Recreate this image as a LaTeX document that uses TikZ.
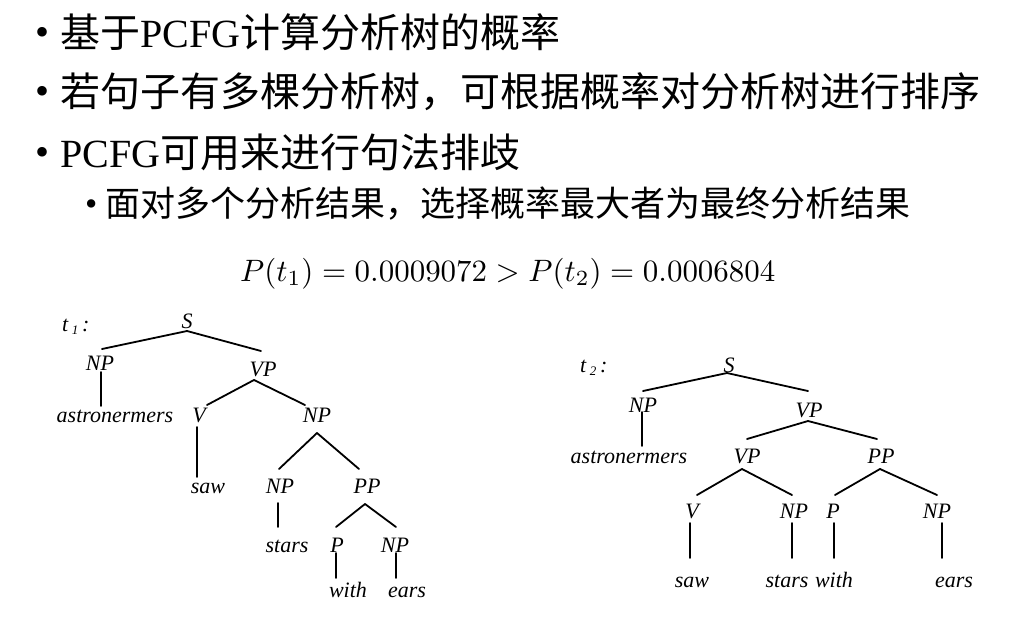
\documentclass[tikz,border=0pt]{standalone}
\usepackage{fontspec}
\usepackage{graphicx}
\setmainfont{Liberation Serif}
\newfontfamily\cjk{Noto Sans CJK SC}
\begin{document}
\begin{tikzpicture}[x=1pt,y=-1pt,
  tl/.style={font=\fontsize{22}{22}\selectfont\itshape, inner sep=0pt, anchor=base},
  br/.style={line width=1.8pt, line cap=round},
  big/.style={font=\fontsize{40}{40}\selectfont, inner sep=0pt, anchor=base west},
  mid/.style={font=\fontsize{35}{35}\selectfont, inner sep=0pt, anchor=base west}]
\useasboundingbox (0,0) rectangle (1036,619);
\fill[white] (0,0) rectangle (1036,619);
% bullet text
\node[big] (b1) at (35,45) {•};
\node[big] (l1) at (60,47) {{\cjk 基于}PCFG{\cjk 计算分析树的概率}};
\node[big] (b2) at (35,104) {•};
\node[big] (l2) at (60,106) {\cjk 若句子有多棵分析树，可根据概率对分析树进行排序};
\node[big] (b3) at (35,165) {•};
\node[big] (l3) at (60,167) {PCFG{\cjk 可用来进行句法排歧}};
\node[mid] (b4) at (85,215) {•};
\node[mid] (l4) at (105,216) {\cjk 面对多个分析结果，选择概率最大者为最终分析结果};
% formula
\node[inner sep=0pt, anchor=base west] (f) at (240,281) {\resizebox{535pt}{!}{$P(t_1)=0.0009072>P(t_2)=0.0006804$}};
% tree t1
\node[tl, anchor=base west] (t1) at (62,331) {t\,\raisebox{-3pt}{\fontsize{13}{13}\selectfont 1}\,:};
\node[tl] (S1) at (187,328) {S};
\node[tl] (NPa) at (100,370) {NP};
\node[tl] (VPa) at (263,376) {VP};
\node[tl] (astr1) at (115,422) {astronermers};
\node[tl] (V1) at (199,422) {V};
\node[tl] (NPb) at (317,422) {NP};
\node[tl] (saw1) at (208,493) {saw};
\node[tl] (NPc) at (280,493) {NP};
\node[tl] (PP1) at (367,493) {PP};
\node[tl] (stars1) at (287,552) {stars};
\node[tl] (P1) at (337,552) {P};
\node[tl] (NPd) at (395,552) {NP};
\node[tl] (with1) at (348,597) {with};
\node[tl] (ears1) at (407,597) {ears};
\draw[br] ([shift={(0,3)}]S1.base) -- ([shift={(2,-21)}]NPa.base);
\draw[br] ([shift={(0,3)}]S1.base) -- ([shift={(-2,-25)}]VPa.base);
\draw[br] ([shift={(1,2)}]NPa.base) -- ([shift={(-14,-16)}]astr1.base);
\draw[br] ([shift={(-9,4)}]VPa.base) -- ([shift={(8,-17)}]V1.base);
\draw[br] ([shift={(-9,4)}]VPa.base) -- ([shift={(-12,-17)}]NPb.base);
\draw[br] ([shift={(-2,5)}]V1.base) -- ([shift={(-11,-16)}]saw1.base);
\draw[br] ([shift={(0,11)}]NPb.base) -- ([shift={(-1,-24)}]NPc.base);
\draw[br] ([shift={(0,11)}]NPb.base) -- ([shift={(-8,-24)}]PP1.base);
\draw[br] ([shift={(-2,10)}]NPc.base) -- ([shift={(-9,-25)}]stars1.base);
\draw[br] ([shift={(-2,11)}]PP1.base) -- ([shift={(-1,-25)}]P1.base);
\draw[br] ([shift={(-2,11)}]PP1.base) -- ([shift={(1,-25)}]NPd.base);
\draw[br] ([shift={(-1,1)}]P1.base) -- ([shift={(-12,-19)}]with1.base);
\draw[br] ([shift={(1,1)}]NPd.base) -- ([shift={(-11,-19)}]ears1.base);
% tree t2
\node[tl, anchor=base west] (t2) at (580,372) {t\,\raisebox{-3pt}{\fontsize{13}{13}\selectfont 2}\,:};
\node[tl] (S2) at (729,372) {S};
\node[tl] (NPe) at (643,412) {NP};
\node[tl] (VPb) at (809,417) {VP};
\node[tl] (astr2) at (629,463) {astronermers};
\node[tl] (VPc) at (747,463) {VP};
\node[tl] (PP2) at (881,463) {PP};
\node[tl] (V2) at (692,518) {V};
\node[tl] (NPf) at (794,518) {NP};
\node[tl] (P2) at (833,518) {P};
\node[tl] (NPg) at (937,518) {NP};
\node[tl] (saw2) at (692,587) {saw};
\node[tl] (stars2) at (787,587) {stars};
\node[tl] (with2) at (834,587) {with};
\node[tl] (ears2) at (954,587) {ears};
\draw[br] ([shift={(-2,1)}]S2.base) -- ([shift={(0,-21)}]NPe.base);
\draw[br] ([shift={(-2,1)}]S2.base) -- ([shift={(-1,-26)}]VPb.base);
\draw[br] ([shift={(-1,0)}]NPe.base) -- ([shift={(13,-17)}]astr2.base);
\draw[br] ([shift={(-1,4)}]VPb.base) -- ([shift={(0,-24)}]VPc.base);
\draw[br] ([shift={(-1,4)}]VPb.base) -- ([shift={(-4,-24)}]PP2.base);
\draw[br] ([shift={(-5,6)}]VPc.base) -- ([shift={(5,-23)}]V2.base);
\draw[br] ([shift={(-5,6)}]VPc.base) -- ([shift={(-2,-23)}]NPf.base);
\draw[br] ([shift={(-1,6)}]PP2.base) -- ([shift={(2,-23)}]P2.base);
\draw[br] ([shift={(-1,6)}]PP2.base) -- ([shift={(0,-23)}]NPg.base);
\draw[br] ([shift={(-2,5)}]V2.base) -- ([shift={(-2,-29)}]saw2.base);
\draw[br] ([shift={(-2,5)}]NPf.base) -- ([shift={(5,-29)}]stars2.base);
\draw[br] ([shift={(1,5)}]P2.base) -- ([shift={(0,-29)}]with2.base);
\draw[br] ([shift={(5,5)}]NPg.base) -- ([shift={(-12,-29)}]ears2.base);
\end{tikzpicture}
\end{document}
